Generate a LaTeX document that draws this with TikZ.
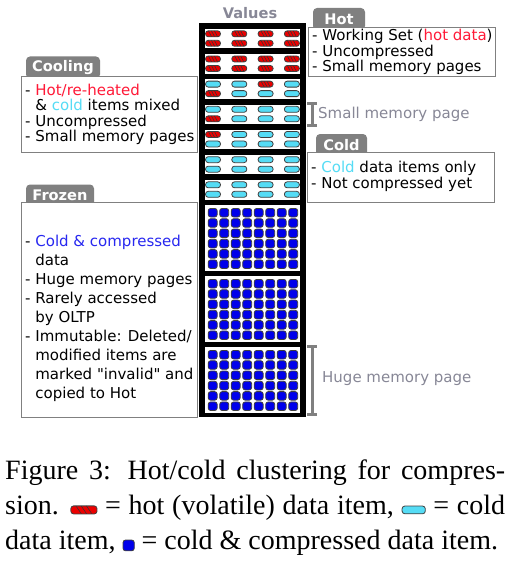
\documentclass[tikz,border=0pt]{standalone}
\usepackage{fontspec}
\setmainfont{DejaVu Sans}
\newfontfamily\captionfont{Liberation Serif}
\usetikzlibrary{arrows.meta}

\definecolor{hotred}{RGB}{235,0,0}
\definecolor{hottext}{RGB}{255,25,55}
\definecolor{coldcyan}{RGB}{85,220,245}
\definecolor{frozenblue}{RGB}{0,0,235}
\definecolor{frozentext}{RGB}{40,40,240}
\definecolor{tabgray}{RGB}{128,128,128}
\definecolor{notegray}{RGB}{135,135,150}

\begin{document}
\begin{tikzpicture}[x=1pt, y=-1pt,
    every node/.style={inner sep=0pt, font=\fontsize{15}{15.5}\selectfont},
    tab/.style={fill=tabgray, rounded corners=4pt, minimum height=22pt, text=white, font=\fontsize{14.6}{15}\selectfont\bfseries},
    infobox/.style={draw=tabgray, fill=white, line width=1pt, anchor=north west},
    boxtext/.style={align=left, anchor=west},
    note/.style={text=notegray, anchor=west},
    bracket/.style={draw=tabgray, line width=3pt, {Bar[width=10pt]}-{Bar[width=10pt]}},
    itemline/.style={draw=black!75, line width=0.8pt},
    hotitem/.pic={
        \begin{scope}
            \clip[rounded corners=2.8pt] (-7.5,-3) rectangle (7.5,3);
            \fill[hotred] (-7.5,-3) rectangle (7.5,3);
            \foreach \s in {-3,0,3}
                \draw[black!80, line width=0.55pt] ({\s-1.6},-3) -- ({\s+1.6},3);
        \end{scope}
        \draw[itemline, rounded corners=2.8pt] (-7.5,-3) rectangle (7.5,3);
    },
    colditem/.pic={\filldraw[itemline, fill=coldcyan, rounded corners=2.8pt] (-7.5,-3) rectangle (7.5,3);},
    frozenitem/.pic={\filldraw[itemline, fill=frozenblue, rounded corners=2.5pt] (-4.5,-4.3) rectangle (4.5,4.3);}
]
    \useasboundingbox (0,0) rectangle (528,586);

    % Coluna de valores
    \node[font=\fontsize{14.6}{15}\selectfont\bfseries, text=notegray] (values) at (250,13) {Values};
    \node[fill=black, minimum width=107pt, minimum height=394pt, anchor=north west] (column) at (199,23) {};

    % Paginas pequenas (1 = hot, 0 = cold)
    \foreach \pg/\rowa/\rowb in {0/{1,1,1,1}/{1,1,1,1}, 1/{1,1,1,1}/{1,1,1,1}, 2/{0,0,1,0}/{1,0,0,0},
                                 3/{0,0,0,0}/{1,0,0,0}, 4/{1,0,0,0}/{0,0,0,0}, 5/{0,0,0,0}/{0,0,0,0},
                                 6/{0,0,0,0}/{0,0,0,0}} {
        \fill[white] (205,{29+25.17*\pg}) rectangle (300,{48.5+25.17*\pg});
        \foreach \h [count=\c] in \rowa {
            \ifnum\h=1 \pic at ({186.7+26.3*\c},{33.8+25.17*\pg}) {hotitem};
            \else \pic at ({186.7+26.3*\c},{33.8+25.17*\pg}) {colditem}; \fi
        }
        \foreach \h [count=\c] in \rowb {
            \ifnum\h=1 \pic at ({186.7+26.3*\c},{43.3+25.17*\pg}) {hotitem};
            \else \pic at ({186.7+26.3*\c},{43.3+25.17*\pg}) {colditem}; \fi
        }
    }

    % Paginas grandes (frozen)
    \foreach \pg in {0,1,2} {
        \fill[white] (205,{205+71*\pg}) rectangle (300,{270.5+71*\pg});
        \foreach \r in {0,...,5}
            \foreach \c in {0,...,7}
                \pic at ({212.7+11.5*\c},{212.7+10.3*\r+71*\pg}) {frozenitem};
    }

    % Abas
    \node[tab, minimum width=52pt] (hottab) at (339,19) {Hot};
    \node[tab, minimum width=74pt] (coolingtab) at (63,67.5) {Cooling};
    \node[tab, minimum width=51pt] (coldtab) at (341.5,145) {Cold};
    \node[tab, minimum width=68pt] (frozentab) at (60,195.5) {Frozen};

    % Caixas
    \node[infobox, minimum width=187pt, minimum height=49pt] (hotbox) at (308,27) {};
    \node[infobox, minimum width=176pt, minimum height=76pt] (coolingbox) at (21,76) {};
    \node[infobox, minimum width=187pt, minimum height=50pt] (coldbox) at (307,152) {};
    \node[infobox, minimum width=176pt, minimum height=215pt] (frozenbox) at (21,202) {};

    % Textos das caixas
    \node[boxtext] (hottext) at ([xshift=4pt]hotbox.west)
        {- Working Set (\textcolor{hottext}{hot data})\\- Uncompressed\\- Small memory pages};
    \node[boxtext] (coolingtext) at ([xshift=4pt]coolingbox.west)
        {- \textcolor{hottext}{Hot/re-heated}\\\hphantom{-\ }\& \textcolor{coldcyan}{cold} items mixed\\- Uncompressed\\- Small memory pages};
    \node[boxtext] (coldtext) at ([xshift=4pt,yshift=1pt]coldbox.west)
        {- \textcolor{coldcyan}{Cold} data items only\\- Not compressed yet};
    \node[boxtext, font=\fontsize{15}{19}\selectfont] (frozentext) at ([xshift=4pt,yshift=-8pt]frozenbox.west)
        {- \textcolor{frozentext}{Cold \& compressed}\\\hphantom{-\ }data\\- Huge memory pages\\- Rarely accessed\\\hphantom{-\ }by OLTP\\
         - Immutable: Deleted/\\\hphantom{-\ }modified items are\\\hphantom{-\ }marked \textquotedbl invalid\textquotedbl{} and\\\hphantom{-\ }copied to Hot};

    % Tamanhos de pagina
    \coordinate (smalltop) at (312,101.5);
    \coordinate (smallbot) at (312,126.5);
    \coordinate (hugetop) at (312,344.5);
    \coordinate (hugebot) at (312,415.5);
    \draw[bracket] (smalltop) -- (smallbot);
    \draw[bracket] (hugetop) -- (hugebot);
    \node[note] (smallnote) at (318,114) {Small memory page};
    \node[note] (hugenote) at (322,379) {Huge memory page};

    % Legenda
    \node[anchor=north west, align=left, font=\captionfont\fontsize{28}{35}\selectfont] (caption) at (5,460)
        {\hbox to 500pt{Figure 3: Hot/cold clustering for compres-}\\
         \hbox to 500pt{sion. \tikz[baseline=-5pt]{\pic[xscale=1.75, yscale=1.35] {hotitem};} = hot (volatile) data item, \tikz[baseline=-5pt]{\pic[xscale=1.55, yscale=1.3] {colditem};} = cold}\\
         data item, \tikz[baseline=-4.5pt]{\pic[scale=1.25] {frozenitem};} = cold \& compressed data item.};

\end{tikzpicture}
\end{document}
